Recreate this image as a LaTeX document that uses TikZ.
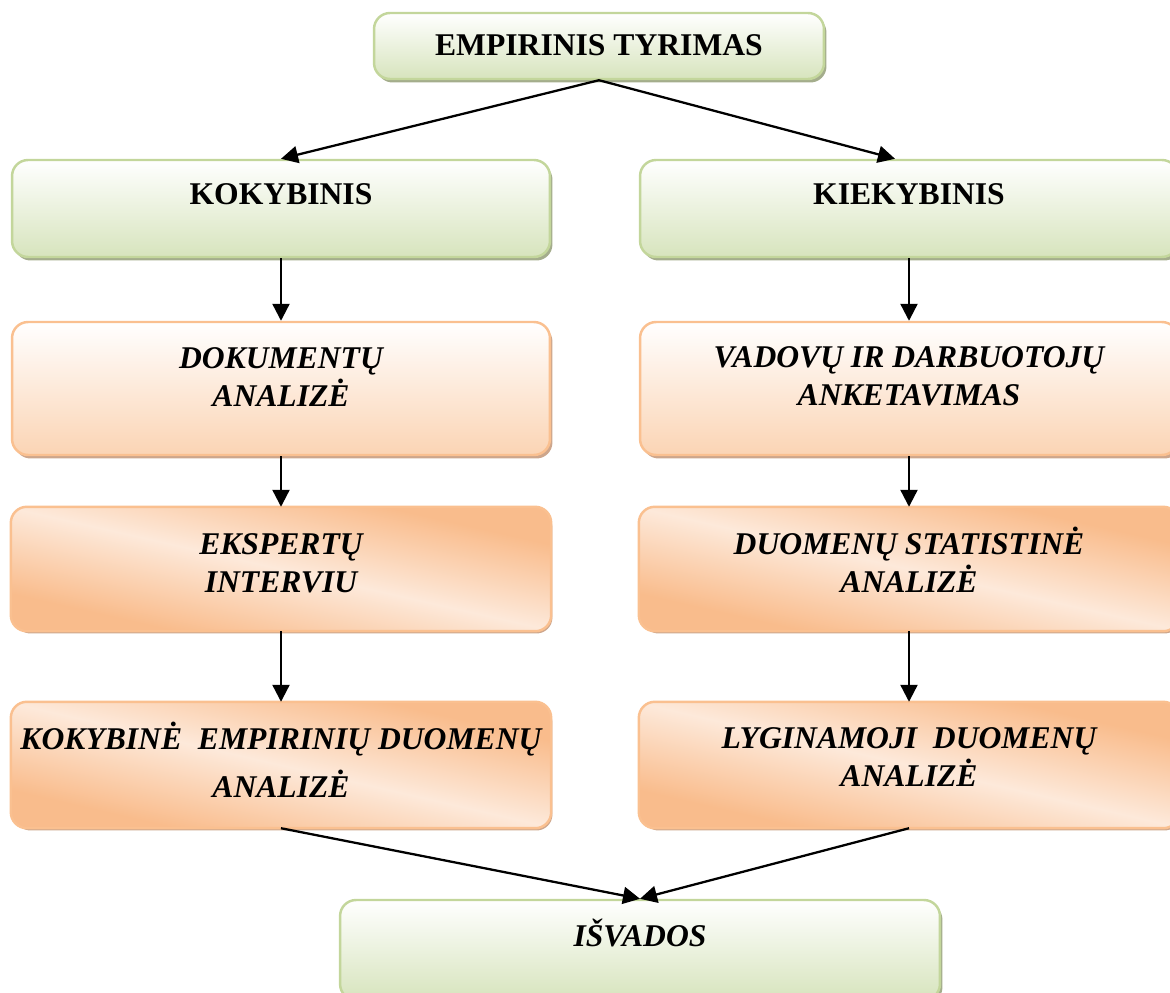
\documentclass[tikz,border=0pt]{standalone}
\usepackage{fontspec}
\setmainfont{Liberation Serif}
\usetikzlibrary{arrows.meta,shadows,calc}

\definecolor{gborder}{HTML}{C3D69B}
\definecolor{gfill}{HTML}{D7E4BD}
\definecolor{gshadow}{HTML}{A4AD8C}
\definecolor{oborder}{HTML}{FAC090}
\definecolor{ofill}{HTML}{FBD4B4}
\definecolor{odeep}{HTML}{F9BC8C}
\definecolor{olight}{HTML}{FDE9DA}
\definecolor{oshadow}{HTML}{CDA68C}

% diagonal corner-to-corner gradient inside a rounded box:
% #1 node name, #2 half height (px units), #3 width/height ratio
\newcommand\diagfill[3]{%
  \begin{scope}
    \clip[rounded corners=0.32cm] (#1.south west) rectangle (#1.north east);
    \shade[transform canvas={shift={(#1.center)}, xscale=#3},
      left color=odeep, right color=odeep, middle color=olight, shading angle=-45]
      (-#2,-#2) rectangle (#2,#2);
  \end{scope}
  \draw[draw=oborder, line width=1.4pt, rounded corners=0.32cm]
    (#1.south west) rectangle (#1.north east);
}

\begin{document}
\begin{tikzpicture}[x=0.02cm,y=-0.02cm,
  box/.style={draw, line width=1.4pt, rounded corners=0.32cm, inner sep=0pt},
  greenbox/.style={box, draw=gborder, top color=white, bottom color=gfill,
    drop shadow={shadow xshift=0.05cm, shadow yshift=-0.07cm, fill=gshadow, opacity=1}},
  peachbox/.style={box, draw=oborder, top color=white, bottom color=ofill,
    drop shadow={shadow xshift=0.05cm, shadow yshift=-0.07cm, fill=oshadow, opacity=1}},
  orangebox/.style={box, draw=oborder, fill=olight,
    drop shadow={shadow xshift=0.05cm, shadow yshift=-0.07cm, fill=oshadow, opacity=1}},
  wide/.style={minimum width=10.76cm},
  lbl/.style={anchor=base, align=center, inner sep=0pt, font=\fontsize{18}{21.6}\selectfont\bfseries},
  ilbl/.style={lbl, font=\fontsize{18}{21.6}\selectfont\bfseries\itshape},
  arr/.style={-{Triangle[length=0.34cm, width=0.34cm]}, line width=1.3pt, black}
]
\useasboundingbox (0,0) rectangle (1170,993);
\clip (0,0) rectangle (1170,993);

% boxes
\node[greenbox, minimum width=9cm, minimum height=1.32cm] (top) at (599,46) {};
\node[greenbox, wide, minimum height=1.94cm] (kok)  at (281,208.5) {};
\node[greenbox, wide, minimum height=1.94cm] (kiek) at (909,208.5) {};
\node[peachbox, wide, minimum height=2.66cm] (dok)  at (281,388.5) {};
\node[peachbox, wide, minimum height=2.66cm] (vad)  at (909,388.5) {};
\node[orangebox, wide, minimum height=2.44cm] (eks) at (281,569) {};
\node[orangebox, wide, minimum height=2.44cm] (dst) at (909,569) {};
\node[orangebox, wide, minimum height=2.48cm] (kdu) at (281,765) {};
\node[orangebox, wide, minimum height=2.48cm] (lyg) at (909,765) {};
\node[greenbox, minimum width=12cm, minimum height=2cm] (isv) at (640,950) {};

\diagfill{eks}{61}{4.41}
\diagfill{dst}{61}{4.41}
\diagfill{kdu}{62}{4.34}
\diagfill{lyg}{62}{4.34}

% labels (base anchor = baseline of the last line)
\node[lbl] (ttop) at (599,56) {EMPIRINIS TYRIMAS};
\node[lbl] (tkok) at (281,205) {KOKYBINIS};
\node[lbl] (tkiek) at (909,205) {KIEKYBINIS};
\node[ilbl] (tdok) at (281,406) {DOKUMENTŲ\\ANALIZĖ};
\node[ilbl] (tvad) at (909,405) {VADOVŲ IR DARBUOTOJŲ\\ANKETAVIMAS};
\node[ilbl] (teks) at (281,592) {EKSPERTŲ\\INTERVIU};
\node[ilbl] (tdst) at (909,592) {DUOMENŲ STATISTINĖ\\ANALIZĖ};
\node[ilbl, font=\fontsize{18}{27}\selectfont\bfseries\itshape] (tkdu) at (281,797) {KOKYBINĖ\ \ EMPIRINIŲ DUOMENŲ\\ANALIZĖ};
\node[ilbl] (tlyg) at (909,786) {LYGINAMOJI\ \ DUOMENŲ\\ANALIZĖ};
\node[ilbl] (tisv) at (640,946) {IŠVADOS};

% connectors
\draw[arr] (top.south) -- (kok.north);
\draw[arr] (top.south) -- ($(kiek.north)+(-14,0)$);
\draw[arr] (kok.south) -- (dok.north);
\draw[arr] (dok.south) -- (eks.north);
\draw[arr] (eks.south) -- (kdu.north);
\draw[arr] (kiek.south) -- (vad.north);
\draw[arr] (vad.south) -- (dst.north);
\draw[arr] (dst.south) -- (lyg.north);
\draw[arr] (kdu.south) -- (isv.north);
\draw[arr] (lyg.south) -- (isv.north);
\end{tikzpicture}
\end{document}
